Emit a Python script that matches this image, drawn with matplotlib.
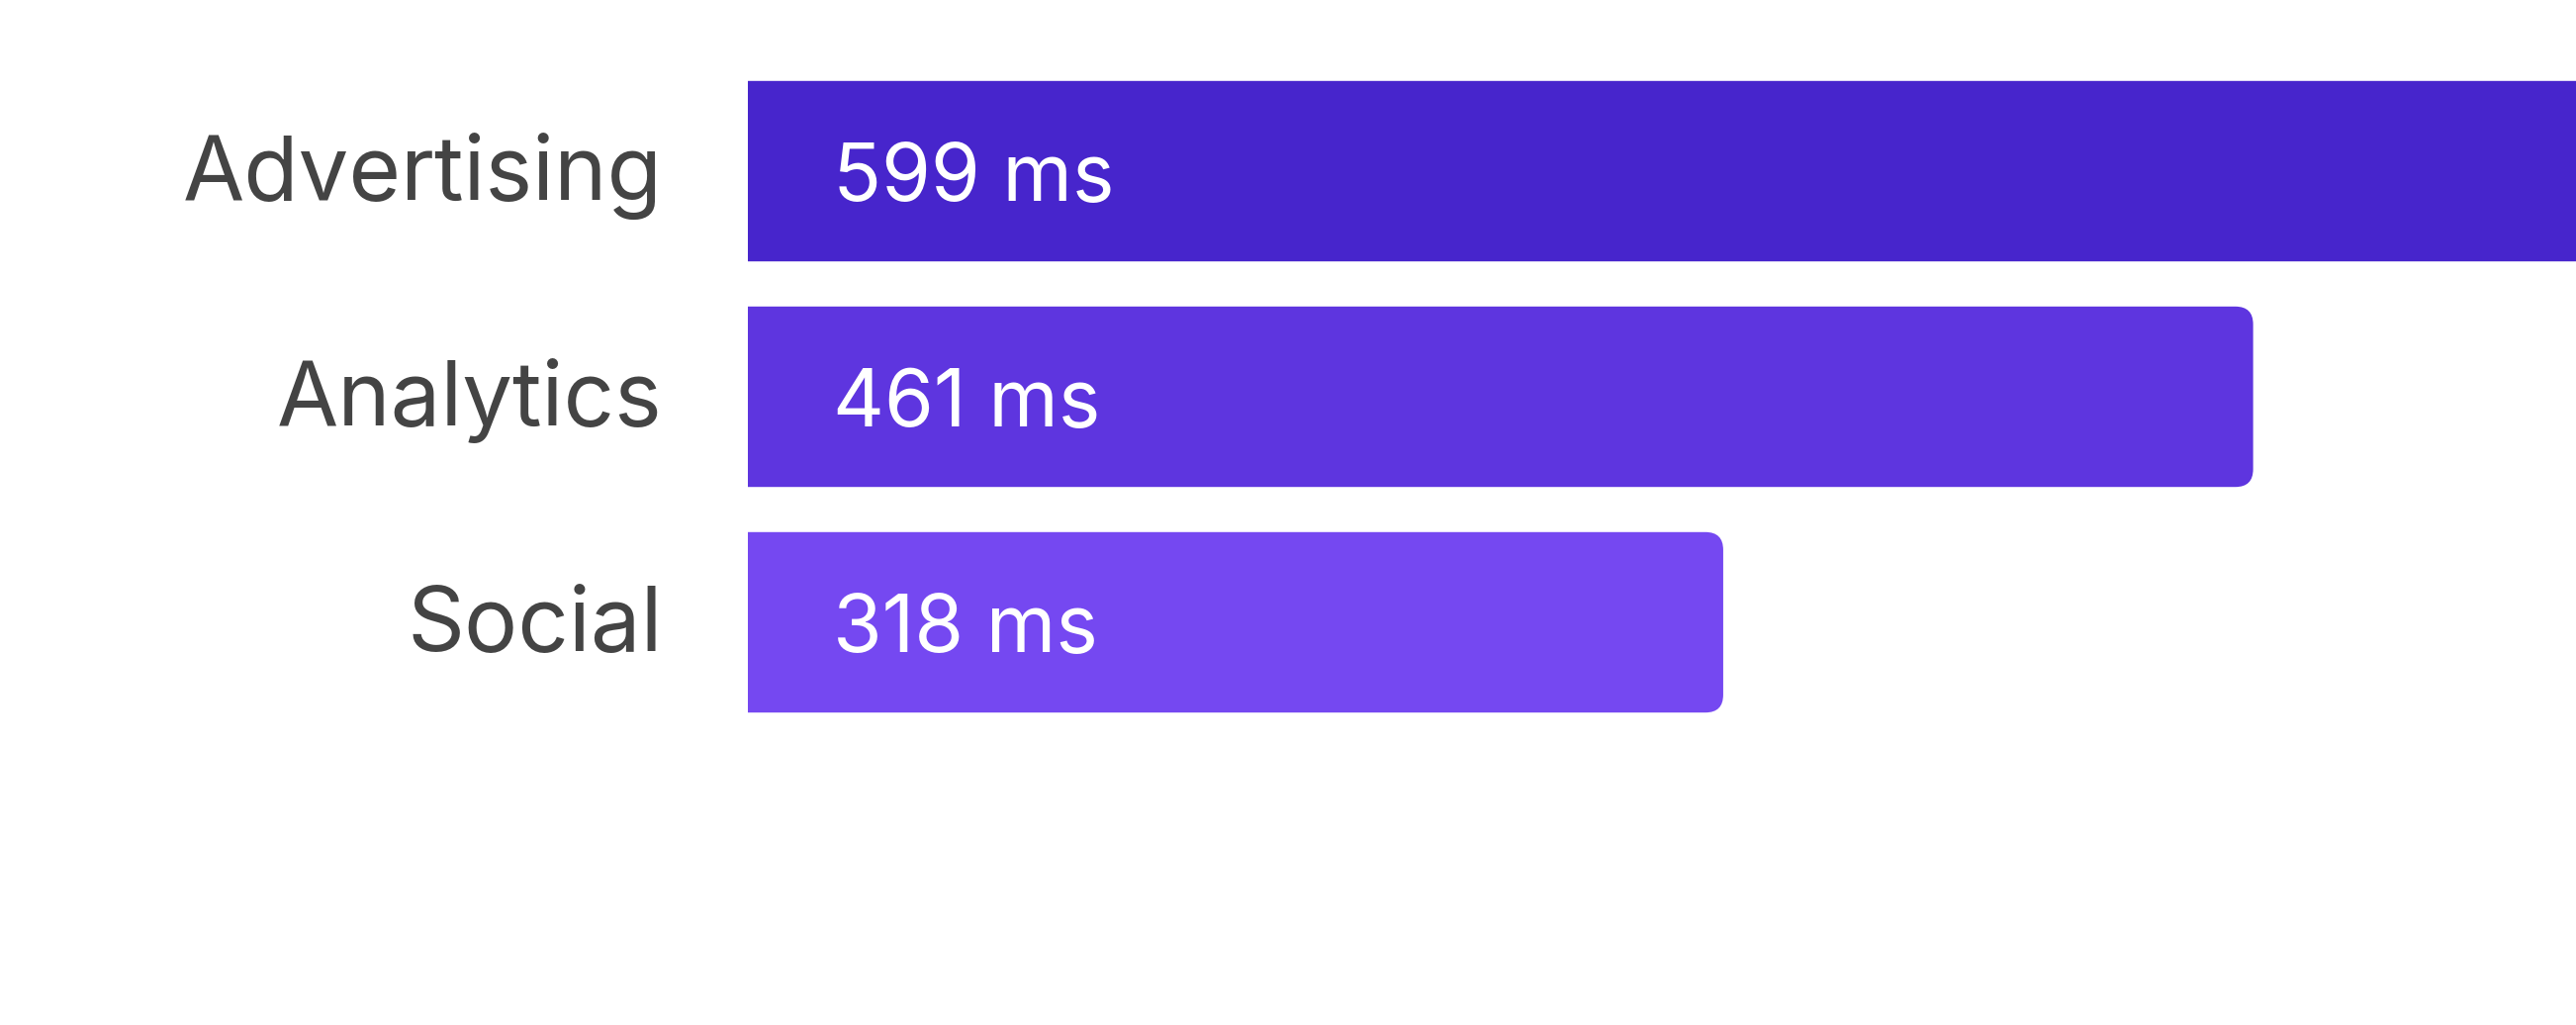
import matplotlib
matplotlib.use("Agg")
from matplotlib import pyplot as plt
from matplotlib.patches import FancyBboxPatch

categories = ["Advertising", "Analytics", "Social"]
values = [599, 461, 318]
value_labels = ["599 ms", "461 ms", "318 ms"]
colors = ["#4725CC", "#5E35DF", "#7548F1"]

plt.rcParams['font.family'] = ['Inter', 'DejaVu Sans']

W, H, DPI = 2604, 1036, 100
fig = plt.figure(figsize=(W / DPI, H / DPI), dpi=DPI)
ax = fig.add_axes([756 / W, 0, 1 - 756 / W, 1])

# scale: ~3.746 px per ms, axis starts near 55 ms
px_per_x = 3.746
x0 = 54.8
ax.set_xlim(x0, x0 + (W - 756) / px_per_x)
px_per_y = 228
ax.set_ylim((H - 173) / px_per_y, -173 / px_per_y)

ypos = list(range(len(categories)))
bars = ax.barh(ypos, values, height=0.8, color=colors)

# swap the plain bars for ones with rounded right corners
radius_px = 18
for bar, c in zip(bars, colors):
    patch = FancyBboxPatch((bar.get_x(), bar.get_y()), bar.get_width(), bar.get_height(),
                           boxstyle=f"round,pad=0,rounding_size={radius_px / px_per_x}",
                           mutation_aspect=px_per_x / px_per_y,
                           facecolor=c, edgecolor='none')
    ax.add_patch(patch)
    bar.set_visible(False)

for y, cat, lab in zip(ypos, categories, value_labels):
    ax.annotate(cat, xy=(0, y), xycoords=('axes fraction', 'data'),
                xytext=(-62, -21), textcoords='offset points',
                ha='right', va='baseline', fontsize=65, color='#444444',
                annotation_clip=False)
    ax.annotate(lab, xy=(0, y), xycoords=('axes fraction', 'data'),
                xytext=(62, -21.6), textcoords='offset points',
                ha='left', va='baseline', fontsize=58, color='white')

ax.axis('off')
fig.savefig("out.png", dpi=DPI)
